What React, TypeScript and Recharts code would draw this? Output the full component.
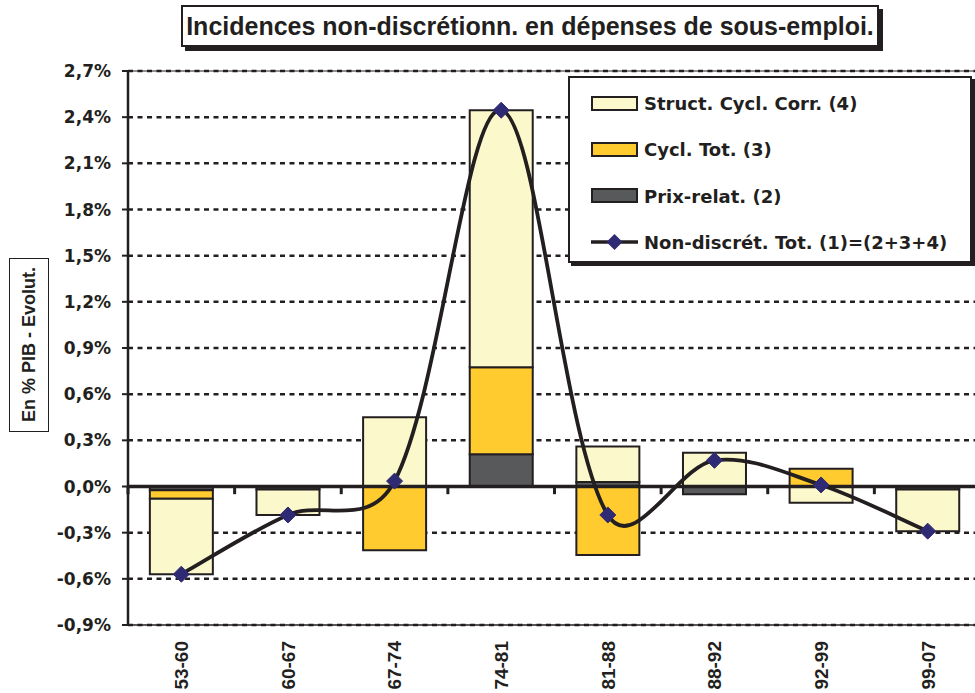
import React from 'react';
import { ComposedChart, Bar, Line, XAxis, YAxis, CartesianGrid, ReferenceLine, Legend } from 'recharts';

const categories = ['53-60', '60-67', '67-74', '74-81', '81-88', '88-92', '92-99', '99-07'];
const prixRelat = [-0.025, -0.02, 0, 0.21, 0.03, -0.05, 0, -0.02];
const cyclTot = [-0.055, 0, -0.415, 0.565, -0.445, 0, 0.115, 0];
const structCycl = [-0.49, -0.165, 0.45, 1.67, 0.23, 0.22, -0.105, -0.27];
const nonDiscret = [-0.57, -0.185, 0.035, 2.445, -0.185, 0.17, 0.01, -0.29];
const yTicks = [-0.9, -0.6, -0.3, 0, 0.3, 0.6, 0.9, 1.2, 1.5, 1.8, 2.1, 2.4, 2.7];
const boundaries = [0, 1, 2, 3, 4, 5, 6, 7, 8];

const title = 'Incidences non-discrétionn. en dépenses de sous-emploi.';
const yLabel = 'En % PIB - Evolut.';
const legendItems = [
  { key: 'struct', label: 'Struct. Cycl. Corr. (4)', type: 'rect', color: '#FBF8CB' },
  { key: 'cycl', label: 'Cycl. Tot. (3)', type: 'rect', color: '#FFCB2E' },
  { key: 'prix', label: 'Prix-relat. (2)', type: 'rect', color: '#58595B' },
  { key: 'total', label: 'Non-discrét. Tot. (1)=(2+3+4)', type: 'line', color: '#2E2A73' },
];

const data = categories.map((c, i) => ({
  cat: c,
  idx: i + 0.5,
  prix: prixRelat[i],
  cycl: cyclTot[i],
  struct: structCycl[i],
  total: nonDiscret[i],
}));

const INK = '#231F20';
const NAVY = '#2E2A73';

// Excel-like smoothing (Bezier through points)
function excelCurve(context: any) {
  let pts: number[][] = [];
  const dist = (a: number[], b: number[]) => Math.hypot(b[0] - a[0], b[1] - a[1]);
  return {
    areaStart() {},
    areaEnd() {},
    lineStart() {
      pts = [];
    },
    lineEnd() {
      const n = pts.length;
      if (!n) return;
      context.moveTo(pts[0][0], pts[0][1]);
      for (let i = 0; i < n - 1; i++) {
        const p0 = pts[Math.max(i - 1, 0)];
        const p1 = pts[i];
        const p2 = pts[i + 1];
        const p3 = pts[Math.min(i + 2, n - 1)];
        const d01 = dist(p0, p1);
        const d12 = dist(p1, p2);
        const d23 = dist(p2, p3);
        const f1 = (1 / 6 + (d01 + d12 > 0 ? d12 / (d01 + d12) / 3 : 1 / 6)) / 2;
        const f2 = (1 / 6 + (d12 + d23 > 0 ? d12 / (d12 + d23) / 3 : 1 / 6)) / 2;
        const c1x = p1[0] + (p2[0] - p0[0]) * f1;
        const c1y = p1[1] + (p2[1] - p0[1]) * f1;
        const c2x = p2[0] - (p3[0] - p1[0]) * f2;
        const c2y = p2[1] - (p3[1] - p1[1]) * f2;
        context.bezierCurveTo(c1x, c1y, c2x, c2y, p2[0], p2[1]);
      }
    },
    point(x: number, y: number) {
      pts.push([+x, +y]);
    },
  };
}

const Diamond = (props: any) => {
  const { cx, cy, index } = props;
  if (cx == null || cy == null) return <g key={`d-${index}`} />;
  const r = 8;
  return (
    <path
      key={`d-${index}`}
      d={`M${cx},${cy - r}L${cx + r},${cy}L${cx},${cy + r}L${cx - r},${cy}Z`}
      fill={NAVY}
      stroke={NAVY}
      strokeWidth={1}
    />
  );
};

const XTick = (props: any) => {
  const { x, y, payload } = props;
  return (
    <text
      transform={`translate(${x},${y + 14}) rotate(-90)`}
      textAnchor="end"
      dy="0.36em"
      fill={INK}
      fontFamily="'Liberation Sans', Arial, sans-serif"
      fontWeight="bold"
      fontSize={19}
    >
      {payload.value}
    </text>
  );
};

const fmtY = (v: number) => `${v.toFixed(1).replace('.', ',')}%`;

const LegendBox = () => (
  <div
    style={{
      width: 404,
      height: 187,
      boxSizing: 'border-box',
      border: `2px solid ${INK}`,
      background: '#fff',
      boxShadow: `3px 3px 0 ${INK}`,
      position: 'relative',
      fontFamily: "'DejaVu Sans', sans-serif",
      fontWeight: 'bold',
      fontSize: 18,
      color: INK,
    }}
  >
    {legendItems.map((it, i) => (
      <div
        key={it.key}
        style={{ position: 'absolute', left: 21, top: 25.5 + i * 46.3 - 12, height: 24, display: 'flex', alignItems: 'center' }}
      >
        <svg width={50} height={24} style={{ display: 'block' }}>
          {it.type === 'rect' ? (
            <rect x={1} y={5} width={45} height={13} fill={it.color} stroke={INK} strokeWidth={2} />
          ) : (
            <g>
              <line x1={0} y1={12} x2={47} y2={12} stroke={INK} strokeWidth={3.5} />
              <path d="M23.5,4L31.5,12L23.5,20L15.5,12Z" fill={it.color} />
            </g>
          )}
        </svg>
        <span style={{ marginLeft: 3, whiteSpace: 'nowrap' }}>{it.label}</span>
      </div>
    ))}
  </div>
);

export default function App() {
  return (
    <div style={{ position: 'absolute', left: 0, top: 0, width: 975, height: 693, overflow: 'hidden', background: '#fff' }}>
      <ComposedChart
        width={990}
        height={693}
        data={data}
        stackOffset="sign"
        barCategoryGap="20.5%"
        margin={{ top: 71, right: 9, bottom: 0, left: 0 }}
      >
        <CartesianGrid vertical={false} stroke={INK} strokeWidth={2.5} strokeDasharray="5 4.5" />
        <XAxis
          dataKey="cat"
          height={68}
          interval={0}
          tickLine={false}
          tickSize={0}
          tick={<XTick />}
          axisLine={{ stroke: INK, strokeWidth: 1.5 }}
        />
        <XAxis xAxisId="num" type="number" dataKey="idx" domain={[0, 8]} hide allowDataOverflow />
        <YAxis
          width={128}
          domain={[-0.9, 2.7]}
          ticks={yTicks}
          allowDataOverflow
          tickFormatter={fmtY}
          tickSize={6}
          tickMargin={11}
          tickLine={{ stroke: INK, strokeWidth: 2 }}
          axisLine={{ stroke: INK, strokeWidth: 2.5 }}
          tick={{ fill: INK, fontSize: 17, fontWeight: 'bold', fontFamily: "'DejaVu Sans', sans-serif" }}
        />
        <ReferenceLine y={2.7} stroke={INK} strokeWidth={1} />
        <Bar dataKey="prix" name="Prix-relat. (2)" stackId="s" fill="#58595B" stroke={INK} strokeWidth={2} isAnimationActive={false} />
        <Bar dataKey="cycl" name="Cycl. Tot. (3)" stackId="s" fill="#FFCB2E" stroke={INK} strokeWidth={2} isAnimationActive={false} />
        <Bar dataKey="struct" name="Struct. Cycl. Corr. (4)" stackId="s" fill="#FBF8CB" stroke={INK} strokeWidth={2} isAnimationActive={false} />
        <ReferenceLine y={0} stroke={INK} strokeWidth={3.5} />
        {boundaries.map((b) => (
          <ReferenceLine
            key={`b-${b}`}
            xAxisId="num"
            segment={[
              { x: b, y: 0 },
              { x: b, y: -0.05 },
            ]}
            stroke={INK}
            strokeWidth={3}
            ifOverflow="visible"
          />
        ))}
        <Line
          dataKey="total"
          name="Non-discrét. Tot. (1)=(2+3+4)"
          type={excelCurve as any}
          stroke={INK}
          strokeWidth={3.8}
          dot={Diamond}
          activeDot={false}
          isAnimationActive={false}
        />
        <Legend
          layout="horizontal"
          verticalAlign="middle"
          content={() => <LegendBox />}
          wrapperStyle={{ position: 'absolute', left: 568, top: 76, width: 404, height: 187 }}
        />
      </ComposedChart>
      <div
        style={{
          position: 'absolute',
          left: 181,
          top: 5,
          width: 698,
          height: 42,
          boxSizing: 'border-box',
          border: `2px solid ${INK}`,
          boxShadow: `4px 4px 0 ${INK}`,
          background: '#fff',
          display: 'flex',
          alignItems: 'center',
          justifyContent: 'center',
          fontFamily: "'Liberation Sans', Arial, sans-serif",
          fontWeight: 'bold',
          fontSize: 25,
          color: INK,
          whiteSpace: 'nowrap',
        }}
      >
        {title}
      </div>
      <div
        style={{
          position: 'absolute',
          left: 9,
          top: 258,
          width: 40,
          height: 174,
          boxSizing: 'border-box',
          border: `1.5px solid ${INK}`,
          background: '#fff',
          display: 'flex',
          alignItems: 'center',
          justifyContent: 'center',
        }}
      >
        <div
          style={{
            writingMode: 'vertical-rl',
            transform: 'rotate(180deg)',
            fontFamily: "'Liberation Sans', Arial, sans-serif",
            fontWeight: 'bold',
            fontSize: 18,
            color: INK,
            whiteSpace: 'nowrap',
          }}
        >
          {yLabel}
        </div>
      </div>
    </div>
  );
}
